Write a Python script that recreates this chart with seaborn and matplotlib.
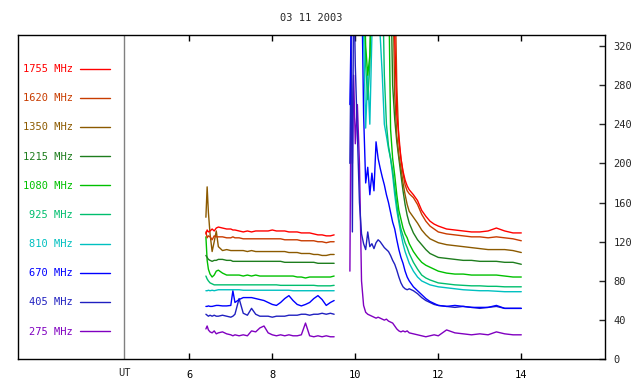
import pandas as pd
import matplotlib
matplotlib.use('Agg')
import matplotlib.pyplot as plt
from matplotlib.lines import Line2D
import seaborn as sns

# bands and colours, top of legend first
bands = ['1755 MHz', '1620 MHz', '1350 MHz', '1215 MHz', '1080 MHz',
         '925 MHz', '810 MHz', '670 MHz', '405 MHz', '275 MHz']
colors = ['#ff0000', '#c83c00', '#8c5a00', '#1e7d1e', '#00c000',
          '#00be6e', '#00c0c0', '#0000ff', '#2020c0', '#8000c0']

# first block of records (UT hours)
t1 = [6.40, 6.43, 6.46, 6.50, 6.55, 6.60, 6.65, 6.70, 6.80, 6.90, 7.00, 7.05, 7.10,
      7.20, 7.30, 7.40, 7.50, 7.60, 7.70, 7.80, 7.90, 8.00, 8.10, 8.20, 8.30, 8.40,
      8.50, 8.60, 8.70, 8.80, 8.90, 9.00, 9.10, 9.20, 9.30, 9.40, 9.49]
s1_1755 = [128, 132, 130, 131, 133, 131, 134, 135, 134, 133, 133, 132, 132, 131, 130, 131, 130, 131, 131,
           131, 131, 132, 131, 131, 131, 130, 130, 130, 129, 129, 129, 128, 127, 127, 126, 126, 127]
s1_1620 = [130, 124, 126, 125, 122, 126, 125, 125, 125, 124, 124, 125, 124, 124, 123, 123, 123, 123, 123,
           123, 123, 123, 123, 123, 122, 122, 122, 122, 121, 121, 121, 121, 120, 120, 119, 120, 120]
s1_1350 = [145, 176, 150, 128, 110, 120, 131, 115, 111, 112, 111, 111, 111, 111, 111, 110, 111, 110, 110,
           110, 110, 110, 110, 110, 110, 109, 109, 109, 108, 108, 108, 107, 107, 106, 106, 107, 107]
s1_1215 = [106, 104, 102, 101, 100, 101, 101, 102, 102, 101, 101, 100, 100, 100, 100, 100, 100, 100, 100,
           100, 100, 100, 100, 100, 99, 99, 99, 99, 99, 99, 99, 99, 98, 98, 98, 98, 98]
s1_1080 = [125, 101, 92, 87, 84, 86, 90, 91, 88, 86, 86, 86, 86, 86, 85, 86, 85, 86, 85,
           85, 85, 85, 85, 85, 85, 85, 85, 84, 84, 83, 84, 84, 84, 84, 84, 84, 85]
s1_925 = [85, 82, 80, 78, 77, 76, 76, 76, 76, 76, 76, 76, 76, 76, 76, 76, 76, 76, 76,
          76, 76, 76, 76, 75.5, 75.5, 75.5, 75.5, 75.5, 75.5, 75.5, 75.5, 75.5, 75, 75, 75, 75, 75.5]
s1_810 = [70, 70, 70.5, 70, 70.5, 70, 70.5, 71, 71, 71, 71, 71, 71, 71, 70.5, 70.5, 70.5, 70.5, 70.5,
          70.5, 70.5, 70.5, 70.5, 70.5, 70.5, 70.5, 70, 70, 70, 70, 70, 70, 70, 70, 70, 70, 70]
s1_670 = [54, 54, 54.5, 54, 54, 54.5, 55, 55, 54.5, 54.5, 55, 70, 58, 61, 63, 63, 63, 62, 61,
          60, 58, 56, 55, 58, 62, 65, 60, 56, 54.5, 56, 58, 62, 65, 61, 55, 58, 60]
s1_405 = [46, 45, 44, 45, 44, 45, 44, 44, 45, 44, 43, 44, 46, 62, 47, 45, 52, 46, 44,
          44, 44, 43, 44, 44, 44, 45, 45, 45, 46, 46, 45, 46, 46, 47, 46, 47, 46]
s1_275 = [31, 34, 30, 28, 27, 29, 26, 27, 28, 26, 25, 24, 25, 24, 25, 24, 29, 28, 32,
          34, 27, 25, 24, 25, 24, 25, 24, 24, 25, 37, 24, 23, 24, 23, 24, 23, 23]

# second block of records, the burst (values above the scale run off the top)
t2 = [9.87, 9.90, 9.93, 9.96, 10.00, 10.05, 10.10, 10.15, 10.20, 10.25, 10.30, 10.35, 10.40,
      10.45, 10.50, 10.55, 10.60, 10.65, 10.70, 10.75, 10.80, 10.85, 10.90, 10.95, 11.00,
      11.05, 11.10, 11.15, 11.20, 11.25, 11.30, 11.40, 11.50, 11.60, 11.70, 11.80, 11.90,
      12.00, 12.20, 12.40, 12.60, 12.80, 13.00, 13.20, 13.40, 13.60, 13.80, 14.00]
s2_1755 = [400, 400, 400, 400, 400, 400, 400, 400, 400, 400, 400, 400, 400, 400, 400, 400,
           400, 400, 400, 400, 400, 400, 400, 330, 250, 228, 205, 192, 183, 177, 173, 168,
           162, 152, 146, 141, 138, 136, 133, 132, 131, 130, 130, 131, 134, 131, 129, 129]
s2_1620 = [400, 400, 400, 400, 400, 400, 400, 400, 400, 400, 400, 400, 400, 400, 400, 400,
           400, 400, 400, 400, 400, 400, 400, 400, 280, 222, 205, 190, 178, 172, 169, 165,
           158, 148, 141, 136, 133, 130, 128, 127, 126, 125, 125, 124, 125, 124, 123, 121]
s2_1350 = [400, 400, 400, 400, 400, 400, 400, 400, 400, 400, 400, 400, 400, 400, 400, 400,
           400, 400, 400, 400, 400, 400, 400, 270, 228, 208, 195, 180, 168, 158, 151, 145,
           139, 132, 127, 123, 121, 119, 117, 116, 115, 114, 113, 112, 112, 112, 111, 109]
s2_1215 = [400, 400, 400, 400, 400, 400, 400, 400, 400, 400, 400, 400, 400, 400, 400, 400,
           400, 400, 400, 400, 400, 400, 280, 245, 222, 205, 188, 172, 158, 147, 139, 129,
           122, 117, 112, 108, 106, 104, 103, 102, 101, 101, 100, 100, 100, 99, 99, 97]
s2_1080 = [400, 400, 400, 400, 400, 400, 400, 400, 400, 320, 290, 310, 400, 400, 400, 400,
           400, 400, 400, 400, 400, 235, 205, 188, 168, 152, 143, 134, 128, 124, 118, 110,
           104, 99, 96, 94, 92, 90, 88, 87, 87, 86, 86, 86, 86, 85, 84, 84]
s2_925 = [400, 400, 400, 400, 400, 400, 400, 400, 400, 300, 265, 300, 400, 400, 400, 400,
          400, 400, 290, 240, 218, 205, 193, 175, 158, 143, 133, 126, 119, 114, 108, 99,
          92, 86, 83, 81, 79.5, 78, 77, 76, 75.5, 75, 75, 74.5, 74.5, 74, 74, 74]
s2_810 = [400, 400, 400, 400, 400, 400, 400, 400, 330, 236, 290, 240, 330, 400, 400, 400,
          330, 290, 240, 228, 215, 205, 188, 168, 152, 140, 128, 118, 110, 104, 98, 90,
          84, 80, 78, 76, 75, 74, 73, 72, 71, 70.5, 70, 70, 69.5, 69, 69, 69]
s2_670 = [260, 340, 400, 400, 400, 400, 400, 400, 250, 180, 196, 168, 190, 172, 222, 205,
          195, 186, 178, 168, 160, 150, 140, 133, 122, 112, 104, 98, 90, 84, 80, 74,
          70, 66, 62, 59, 57, 55, 54, 55, 54, 53, 53, 53, 55, 52, 52, 52]
s2_405 = [200, 330, 130, 400, 300, 230, 160, 128, 118, 112, 130, 115, 118, 113, 119, 122,
          120, 117, 114, 112, 110, 106, 101, 97, 91, 84, 78, 74, 72, 71, 72, 70,
          67, 63, 60, 58, 56, 55, 54, 53, 54, 53, 52, 53, 54, 52, 52, 52]
s2_275 = [90, 300, 200, 290, 220, 260, 200, 80, 55, 48, 46, 45, 44, 43, 42, 43,
          42, 41, 40, 41, 39, 38, 37, 34, 31, 29, 28, 29, 28, 29, 27, 26,
          25, 24, 23, 24, 25, 24, 30, 27, 26, 25, 26, 25, 28, 26, 25, 25]

seg1 = [s1_1755, s1_1620, s1_1350, s1_1215, s1_1080, s1_925, s1_810, s1_670, s1_405, s1_275]
seg2 = [s2_1755, s2_1620, s2_1350, s2_1215, s2_1080, s2_925, s2_810, s2_670, s2_405, s2_275]

rows = []
for band, v1, v2 in zip(bands, seg1, seg2):
    for t, v in zip(t1, v1):
        rows.append((band, 1, t, v))
    for t, v in zip(t2, v2):
        rows.append((band, 2, t, v))
df = pd.DataFrame(rows, columns=['band', 'segment', 'UT', 'flux'])

sns.set_theme(style='white')
plt.rcParams['font.family'] = ['DejaVu Sans Mono']
plt.rcParams['font.size'] = 7.5
plt.rcParams['xtick.labelsize'] = 7.5
plt.rcParams['ytick.labelsize'] = 7.5

fig = plt.figure(figsize=(6.4, 3.84), dpi=100)
ax = fig.add_axes([0.0289, 0.0643, 0.9164, 0.8445])

palette = dict(zip(bands, colors))
# draw the low bands first so the high ones sit on top
sns.lineplot(data=df, x='UT', y='flux', hue='band', units='segment', estimator=None,
             hue_order=bands[::-1], palette=palette, lw=1.0,
             legend=False, ax=ax)

ax.set_xlim(1.884, 16.017)
ax.set_ylim(0, 331)
ax.axvline(4.43, color='gray', lw=1)

for sp in ax.spines.values():
    sp.set_color('black')
    sp.set_linewidth(1)

ax.set_xticks([6, 8, 10, 12, 14])
ax.set_xticklabels(['6', '8', '10', '12', '14'])
ax.set_xticks([4.43], minor=True)
ax.set_xticklabels(['UT'], minor=True)
ax.tick_params(axis='x', which='major', direction='in', length=4, width=1,
               top=True, bottom=True, pad=8, colors='black')
ax.tick_params(axis='x', which='minor', length=0, pad=6)
ax.yaxis.tick_right()
ax.set_yticks(range(0, 321, 40))
ax.tick_params(axis='y', direction='in', length=4, width=1, right=True, left=False, pad=6)
ax.set_xlabel('')
ax.set_ylabel('')
ax.set_title('03 11 2003', fontsize=7.5, pad=10)

handles = [Line2D([], [], color=c, lw=1) for c in colors]
leg = ax.legend(handles, bands, loc='upper left', bbox_to_anchor=(0.0, 0.923),
                frameon=False, markerfirst=False, handlelength=2.9, handletextpad=0.7,
                labelspacing=1.84, labelcolor=colors, fontsize=7.5, borderaxespad=0)

plt.savefig('out.png', dpi=100)
plt.close()
